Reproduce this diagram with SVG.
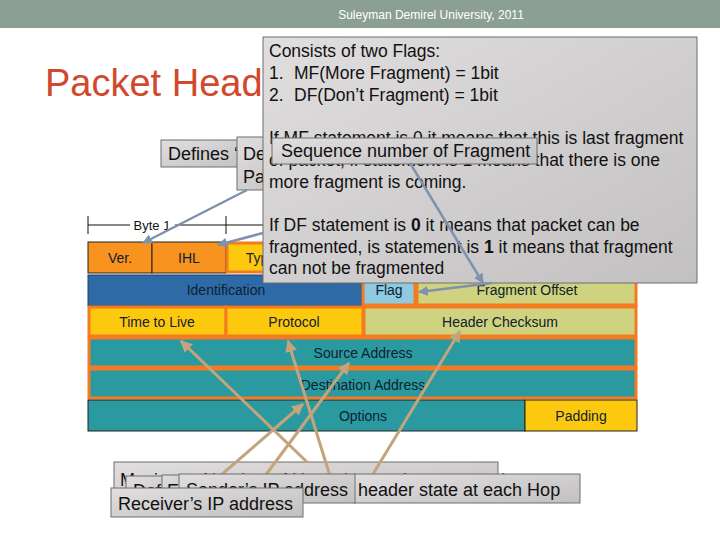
<svg xmlns="http://www.w3.org/2000/svg" width="720" height="540" viewBox="0 0 720 540">
<defs>
<linearGradient id="callout" x1="0" y1="0" x2="1" y2="1">
<stop offset="0" stop-color="#e0dede"/>
<stop offset="1" stop-color="#c2c0c0"/>
</linearGradient>
<marker id="tanHead" viewBox="0 0 10 10" refX="9" refY="5" markerWidth="12" markerHeight="12" markerUnits="userSpaceOnUse" orient="auto">
<path d="M0,0 L10,5 L0,10 Z" fill="#c4a47c"/>
</marker>
<marker id="blueHead" viewBox="0 0 10 10" refX="9" refY="5" markerWidth="10" markerHeight="10" markerUnits="userSpaceOnUse" orient="auto">
<path d="M0,0 L10,5 L0,10 Z" fill="#7f92ad"/>
</marker>
</defs>
<style>
.call{fill:url(#callout);stroke:#6e6e6e;stroke-width:1}
.ct{font-family:"Liberation Sans",Arial,sans-serif;font-size:17.5px;fill:#111}
.bt{font-family:"Liberation Sans",Arial,sans-serif;font-size:18px;fill:#111}
.tt{font-family:"Liberation Sans",Arial,sans-serif;font-size:14px;fill:#10202f;text-anchor:middle}
.ob{stroke:#f47b20;stroke-width:3}
.kb{stroke:#222;stroke-width:1}
.tan{stroke:#c4a47c;stroke-width:3;fill:none;marker-end:url(#tanHead)}
.blu{stroke:#7f92ad;stroke-width:2.5;fill:none;marker-end:url(#blueHead)}
</style>
<rect width="720" height="540" fill="#ffffff"/>
<g id="banner">
<rect x="0" y="0" width="720" height="28" fill="#8c9f95"/>
<text x="431" y="19" font-family="Liberation Sans,Arial,sans-serif" font-size="12" fill="#ffffff" text-anchor="middle">Suleyman Demirel University, 2011</text>
</g>
<g id="title">
<text x="45" y="96" font-family="Liberation Sans,Arial,sans-serif" font-size="38" fill="#d2482c">Packet Head</text>
</g>
<g id="header-table">
<g id="byte-ruler" stroke="#111" stroke-width="1">
<line x1="88" y1="225" x2="130" y2="225"/>
<line x1="175" y1="225" x2="270" y2="225"/>
<line x1="88" y1="216" x2="88" y2="234"/>
<line x1="226" y1="216" x2="226" y2="234"/>
</g>
<text x="152" y="230" font-family="Liberation Sans,Arial,sans-serif" font-size="13" fill="#111" text-anchor="middle">Byte 1</text>
<g id="f-ver"><rect x="88" y="242" width="64" height="31" fill="#f7931e" class="kb"/><text class="tt" x="120" y="263">Ver.</text></g>
<g id="f-ihl"><rect x="152" y="242" width="74" height="31" fill="#f7931e" class="kb"/><text class="tt" x="189" y="263">IHL</text></g>
<g id="f-tos"><rect x="227" y="243" width="136" height="29" fill="#fdc90f" class="ob"/><text class="tt" x="294" y="263">Type of Service</text></g>
<g id="f-len"><rect x="364" y="243" width="272" height="29" fill="#cfd27e" class="ob"/></g>
<g id="f-id"><rect x="88" y="275" width="274" height="31" fill="#2e6ba6" stroke="#1d3f66" stroke-width="1"/><text class="tt" x="226" y="295">Identification</text></g>
<g id="f-flag"><rect x="363" y="276" width="52" height="29" fill="#8ecbe0" class="ob"/><text class="tt" x="389" y="295">Flag</text></g>
<g id="f-frag"><rect x="417" y="276" width="219" height="29" fill="#cfd27e" class="ob"/><text class="tt" x="527" y="295">Fragment Offset</text></g>
<g id="f-ttl"><rect x="89" y="307" width="137" height="29" fill="#fdc90f" class="ob"/><text class="tt" x="157" y="327">Time to Live</text></g>
<g id="f-proto"><rect x="226" y="307" width="137" height="29" fill="#fdc90f" class="ob"/><text class="tt" x="294" y="327">Protocol</text></g>
<g id="f-chk"><rect x="364" y="307" width="272" height="29" fill="#cfd27e" class="ob"/><text class="tt" x="500" y="327">Header Checksum</text></g>
<g id="f-src"><rect x="89" y="338" width="547" height="29" fill="#2b9aa0" class="ob"/><text class="tt" x="363" y="358">Source Address</text></g>
<g id="f-dst"><rect x="89" y="369" width="547" height="29" fill="#2b9aa0" class="ob"/><text class="tt" x="363" y="390">Destination Address</text></g>
<g id="f-opt"><rect x="88" y="400" width="437" height="31" fill="#2b9aa0" class="kb"/><text class="tt" x="363" y="421">Options</text></g>
<g id="f-pad"><rect x="525" y="400" width="112" height="31" fill="#fdc90f" class="kb"/><text class="tt" x="581" y="421">Padding</text></g>
</g>
<g id="note-defines">
<rect class="call" x="161" y="140" width="90" height="27"/>
<text class="bt" x="168" y="160">Defines ‘</text>
</g>
<g id="note-ihl">
<rect class="call" x="237" y="137" width="60" height="53"/>
<text class="bt" x="243" y="160">Defines</text>
<text class="bt" x="243" y="183">Packet</text>
</g>
<g id="note-flags">
<rect class="call" x="263" y="37" width="434" height="246"/>
<text class="ct" x="269" y="57">Consists of two Flags:</text>
<text class="ct" x="269" y="79">1.</text><text class="ct" x="294" y="79">MF(More Fragment) = 1bit</text>
<text class="ct" x="269" y="101">2.</text><text class="ct" x="294" y="101">DF(Don’t Fragment) = 1bit</text>
<text class="ct" x="269" y="144">If MF statement is 0 it means that this is last fragment</text>
<text class="ct" x="269" y="166">of packet, if statement is 1 means that there is one</text>
<text class="ct" x="269" y="188">more fragment is coming.</text>
<text class="ct" x="269" y="231">If DF statement is <tspan font-weight="bold">0</tspan> it means that packet can be</text>
<text class="ct" x="269" y="253">fragmented, is statement is <tspan font-weight="bold">1</tspan> it means that fragment</text>
<text class="ct" x="269" y="274">can not be fragmented</text>
</g>
<g id="note-sequence">
<rect class="call" x="272" y="138" width="265" height="26"/>
<text class="bt" x="281" y="157">Sequence number of Fragment</text>
</g>
<g id="note-hops">
<rect class="call" x="114" y="462" width="384" height="40"/>
<text class="bt" x="120" y="486">Maximum Number of Hops that packet can reach</text>
</g>
<g id="connectors">
<line class="blu" x1="247" y1="190" x2="143" y2="243"/>
<line class="blu" x1="263" y1="233" x2="218" y2="245"/>
<line class="blu" x1="410" y1="163" x2="483" y2="283"/>
<line class="blu" x1="492" y1="283" x2="419" y2="292"/>
<line class="tan" x1="307" y1="462" x2="181" y2="341"/>
<line class="tan" x1="330" y1="476" x2="288" y2="341"/>
<line class="tan" x1="373" y1="474" x2="460" y2="331"/>
<line class="tan" x1="265" y1="476" x2="349" y2="363"/>
<line class="tan" x1="205" y1="489" x2="303" y2="404"/>
</g>
<g id="note-header-state">
<rect class="call" x="354" y="474" width="226" height="29"/>
<text class="bt" x="358" y="496">header state at each Hop</text>
</g>
<g id="note-def">
<rect class="call" x="126" y="476" width="60" height="27"/>
<text class="bt" x="133" y="497">Def</text>
</g>
<g id="note-e">
<rect class="call" x="162" y="475" width="30" height="28"/>
<text class="bt" x="167" y="497">E</text>
</g>
<g id="note-sender">
<rect class="call" x="179" y="474" width="176" height="29"/>
<text class="bt" x="186" y="496">Sender’s IP address</text>
</g>
<g id="note-receiver">
<rect class="call" x="111" y="488" width="192" height="29"/>
<text class="bt" x="118" y="510">Receiver’s IP address</text>
</g>
</svg>
